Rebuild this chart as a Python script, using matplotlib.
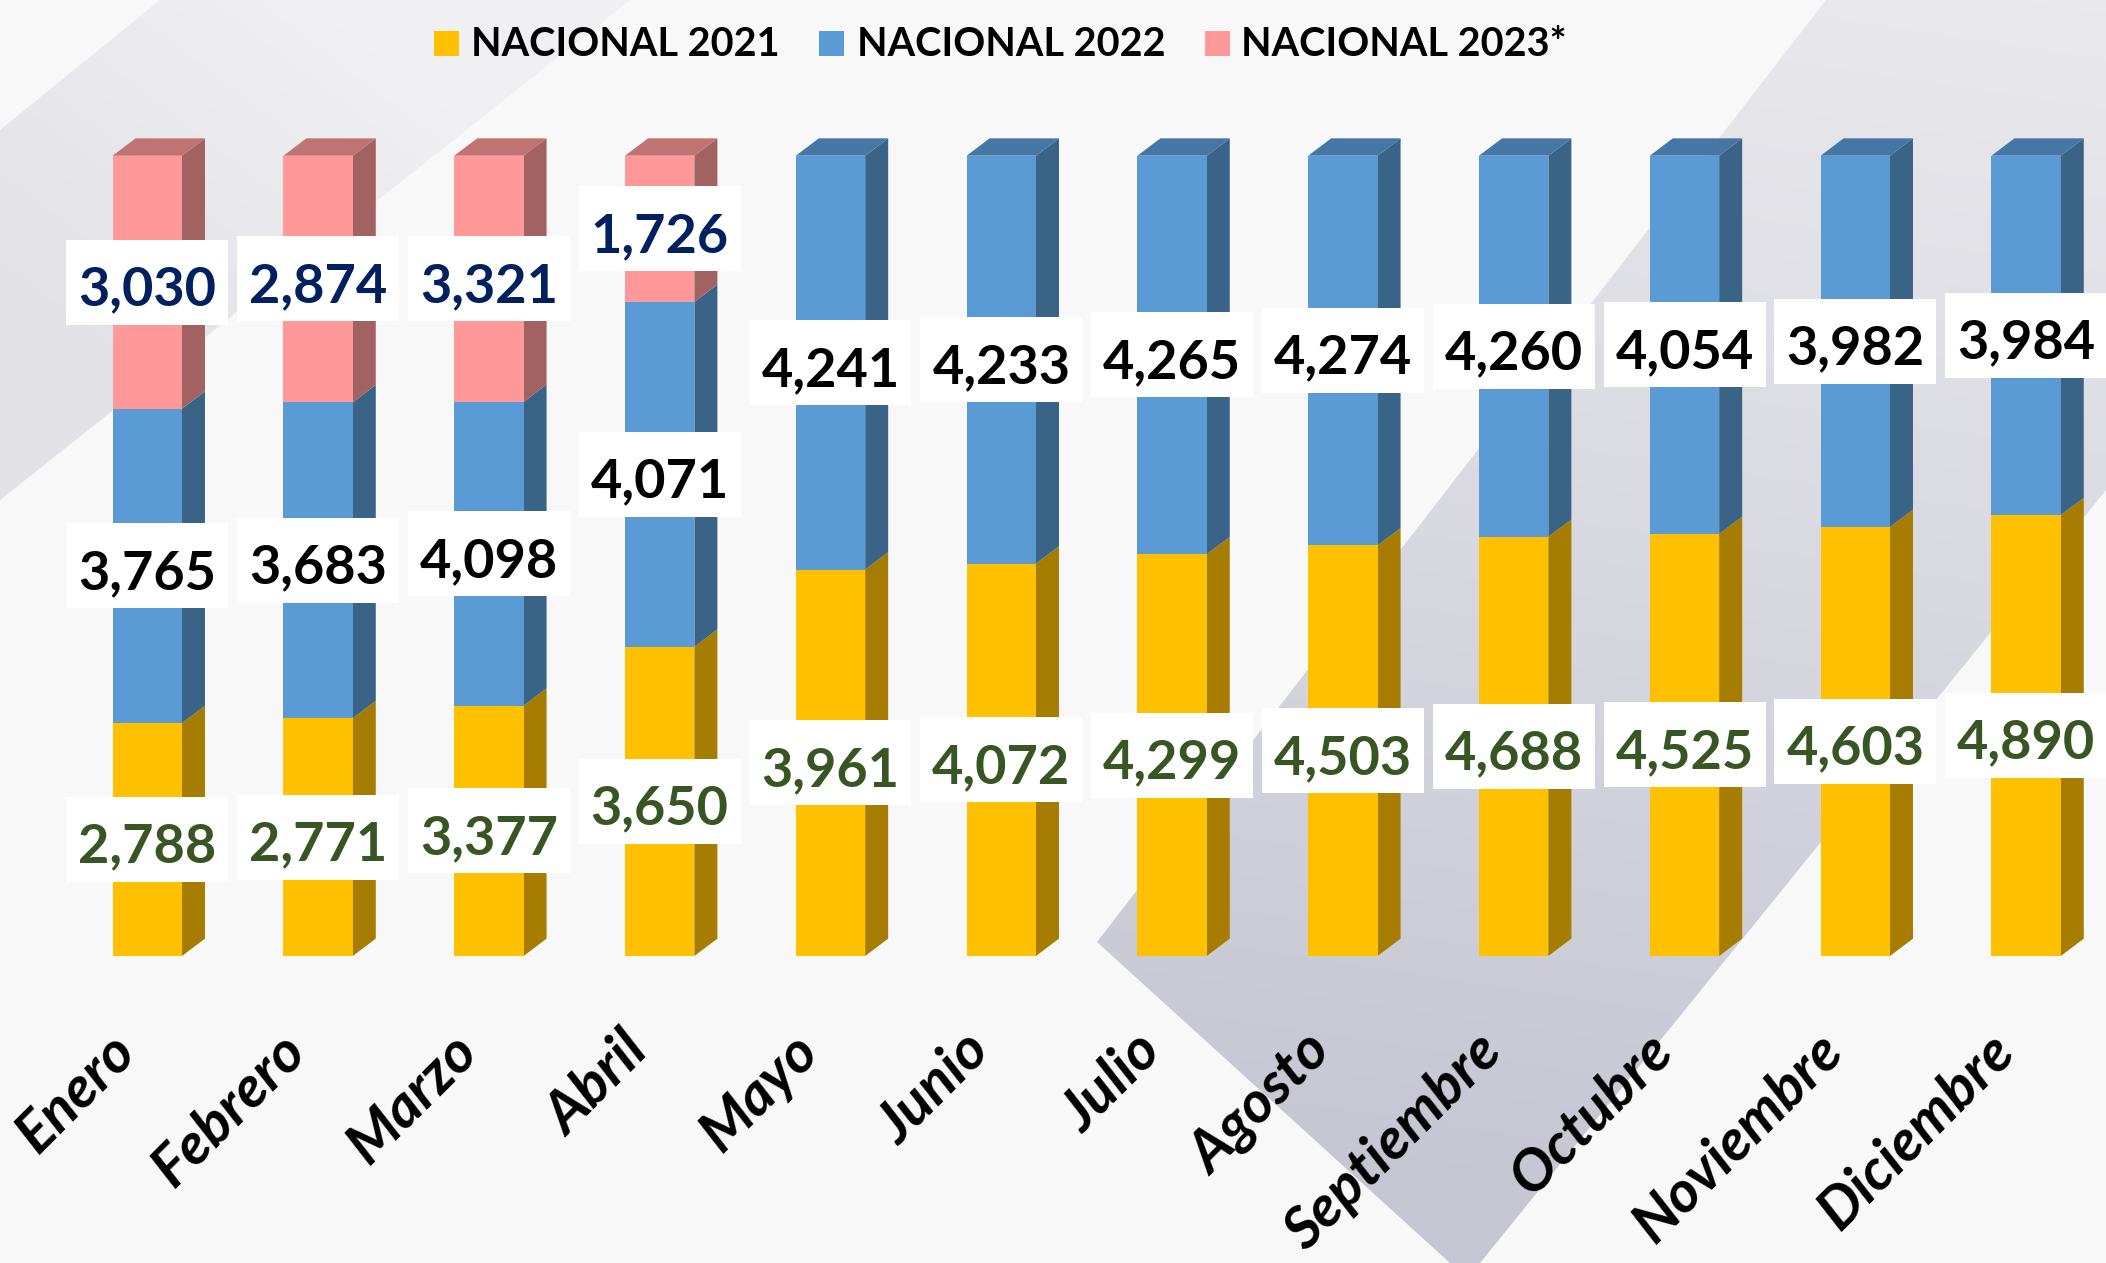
import numpy as np
import matplotlib
matplotlib.use("Agg")
import matplotlib.pyplot as plt
from matplotlib.patches import Polygon, Rectangle

plt.rcParams['font.family'] = ['Lato', 'DejaVu Sans']

months = ['Enero', 'Febrero', 'Marzo', 'Abril', 'Mayo', 'Junio', 'Julio',
          'Agosto', 'Septiembre', 'Octubre', 'Noviembre', 'Diciembre']
nac_2021 = [2788, 2771, 3377, 3650, 3961, 4072, 4299, 4503, 4688, 4525, 4603, 4890]
nac_2022 = [3765, 3683, 4098, 4071, 4241, 4233, 4265, 4274, 4260, 4054, 3982, 3984]
nac_2023 = [3030, 2874, 3321, 1726, 0, 0, 0, 0, 0, 0, 0, 0]
series_names = ['NACIONAL 2021', 'NACIONAL 2022', 'NACIONAL 2023*']

# front / side / top colours, label colour
front = ['#FFC000', '#5B9BD5', '#FF9999']
side = ['#A67D00', '#3A6487', '#A36262']
top = ['#B88A00', '#4676A4', '#C07373']
lab_col = ['#375623', '#000000', '#002060']

W, H = 2106, 1263
fig = plt.figure(figsize=(W / 100, H / 100), dpi=100)
fig.patch.set_facecolor('#F8F8F8')

# background decoration (pixel coords)
bg = fig.add_axes([0, 0, 1, 1])
bg.set_xlim(0, W)
bg.set_ylim(H, 0)
bg.axis('off')

yy, xx = np.mgrid[0:H:4, 0:W:4]
g1 = np.clip((xx - yy * 1.3) / 700 + 0.5, 0, 1)
c_a, c_b = np.array([0.886, 0.886, 0.905]), np.array([0.945, 0.945, 0.953])
img1 = c_a + (c_b - c_a) * g1[..., None]
band = Polygon([(160, 0), (630, 0), (0, 500), (0, 130)], closed=True,
               facecolor='none', edgecolor='none')
bg.add_patch(band)
im1 = bg.imshow(img1, extent=(0, W, H, 0), aspect='auto', zorder=1)
im1.set_clip_path(band)

g2 = np.clip(yy / H + (W - xx) / W * 0.25, 0, 1)
c_c, c_d = np.array([0.915, 0.915, 0.93]), np.array([0.78, 0.78, 0.83])
img2 = c_c + (c_d - c_c) * g2[..., None]
shape = Polygon([(1826, 0), (W, 0), (W, 490), (1480, H), (1450, H), (1097, 942)],
                closed=True, facecolor='none', edgecolor='none')
bg.add_patch(shape)
im2 = bg.imshow(img2, extent=(0, W, H, 0), aspect='auto', zorder=1)
im2.set_clip_path(shape)

# main chart axes
ax = fig.add_axes([0, 0, 1, 1])
ax.patch.set_alpha(0)
ax.set_xlim(-147.3 / 170.8, (W - 147.3) / 170.8)
ax.set_ylim(-(H - 956) / 800.3, 956 / 800.3)
ax.axis('off')

vals = np.array([nac_2021, nac_2022, nac_2023], dtype=float)
totals = vals.sum(axis=0)
frac = vals / totals

x = np.arange(len(months))
bw = 0.406
dx, dy = 0.1347, 0.0217
box_w, box_h = 162 / 170.8, 85 / 800.3   # white label boxes

bottoms = np.zeros(len(months))
for s in range(3):
    h = frac[s]
    ax.bar(x, h, bw, bottom=bottoms, color=front[s], linewidth=0, zorder=3)
    for i in range(len(months)):
        if h[i] <= 0:
            continue
        xr = x[i] + bw / 2
        y0, y1 = bottoms[i], bottoms[i] + h[i]
        ax.add_patch(Polygon([(xr, y0), (xr + dx, y0 + dy), (xr + dx, y1 + dy), (xr, y1)],
                             closed=True, facecolor=side[s], edgecolor='none', zorder=2))
        is_top = all(frac[k][i] <= 0 for k in range(s + 1, 3))
        if is_top:
            xl = x[i] - bw / 2
            ax.add_patch(Polygon([(xl, y1), (xl + dx, y1 + dy), (xr + dx, y1 + dy), (xr, y1)],
                                 closed=True, facecolor=top[s], edgecolor='none', zorder=2))
        yc = y0 + h[i] / 2
        ax.add_patch(Rectangle((x[i] - box_w / 2, yc - box_h / 2), box_w, box_h,
                               facecolor='white', edgecolor='none', zorder=4))
        ax.text(x[i], yc - 0.004, f'{int(vals[s][i]):,}', ha='center',
                va='center_baseline', fontsize=39, fontweight='bold',
                color=lab_col[s], zorder=5)
    bottoms = bottoms + h

for i, m in enumerate(months):
    ax.text(x[i] - 0.12, -0.108, m, rotation=45, rotation_mode='anchor',
            ha='right', va='center', fontsize=42, fontweight='bold',
            fontstyle='italic', color='black', zorder=5)

# legend
leg_sq = [434, 819, 1205]
leg_tx = [471, 857, 1241]
for s in range(3):
    fig.patches.append(Rectangle((leg_sq[s] / W, 1 - 56 / H), 25 / W, 25 / H,
                                 transform=fig.transFigure, facecolor=front[s],
                                 edgecolor='none', zorder=6))
    fig.text(leg_tx[s] / W, 1 - 44 / H, series_names[s], ha='left', va='center',
             fontsize=28.5, fontweight='bold', color='black')

fig.savefig('out.png', dpi=100, facecolor=fig.get_facecolor())
